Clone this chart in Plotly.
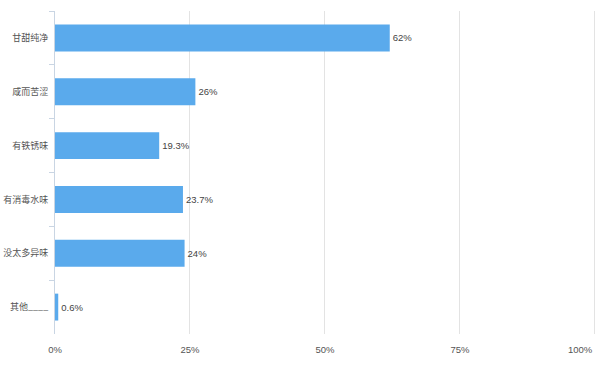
import plotly.graph_objects as go

categories = ["甘甜纯净", "咸而苦涩", "有铁锈味", "有消毒水味", "没太多异味", "其他____"]
values = [62, 26, 19.3, 23.7, 24, 0.6]
x_ticks = [0, 25, 50, 75, 100]
x_tick_labels = ["0%", "25%", "50%", "75%", ""]
last_tick_label = "100%"

NUM_FONT = "Liberation Sans, Arial, sans-serif"

fig = go.Figure(go.Bar(
    y=categories, x=values, orientation="h",
    marker=dict(color="#5aaaec", line=dict(width=0)),
    text=[f"{v:g}%" for v in values], textposition="outside",
    textfont=dict(family=NUM_FONT, size=9.5, color="#444"),
    cliponaxis=False, width=0.5,
))
fig.update_layout(
    width=604, height=371,
    margin=dict(l=55, r=8, t=11, b=37),
    plot_bgcolor="white", paper_bgcolor="white",
    showlegend=False,
    font=dict(family="Noto Sans CJK SC", size=10, color="#555"),
)
fig.add_annotation(x=x_ticks[-1], xref="x", y=0, yref="paper", yshift=-15,
                   text=last_tick_label, showarrow=False, xanchor="right", yanchor="middle",
                   font=dict(family=NUM_FONT, size=9.5, color="#555"))
fig.update_xaxes(range=[0, 100.2], tickvals=x_ticks, ticktext=x_tick_labels,
                 showgrid=True, gridcolor="#e3e3e3", gridwidth=1, zeroline=False,
                 showline=False, ticks="", tickfont=dict(family=NUM_FONT, size=9.5, color="#555"),
                 automargin=False, ticklabelstandoff=8)
fig.update_yaxes(autorange="reversed", showline=True, linecolor="#c9d5e3", linewidth=1,
                 ticks="outside", tickson="boundaries", ticklen=5, tickcolor="#c9d5e3",
                 showgrid=False, tickfont=dict(family="Noto Sans CJK SC", size=9, color="#555"),
                 ticklabelstandoff=4, automargin=False)
fig.write_html("out.html", config={"displayModeBar": False},
               post_script="document.body.style.margin='0';")
